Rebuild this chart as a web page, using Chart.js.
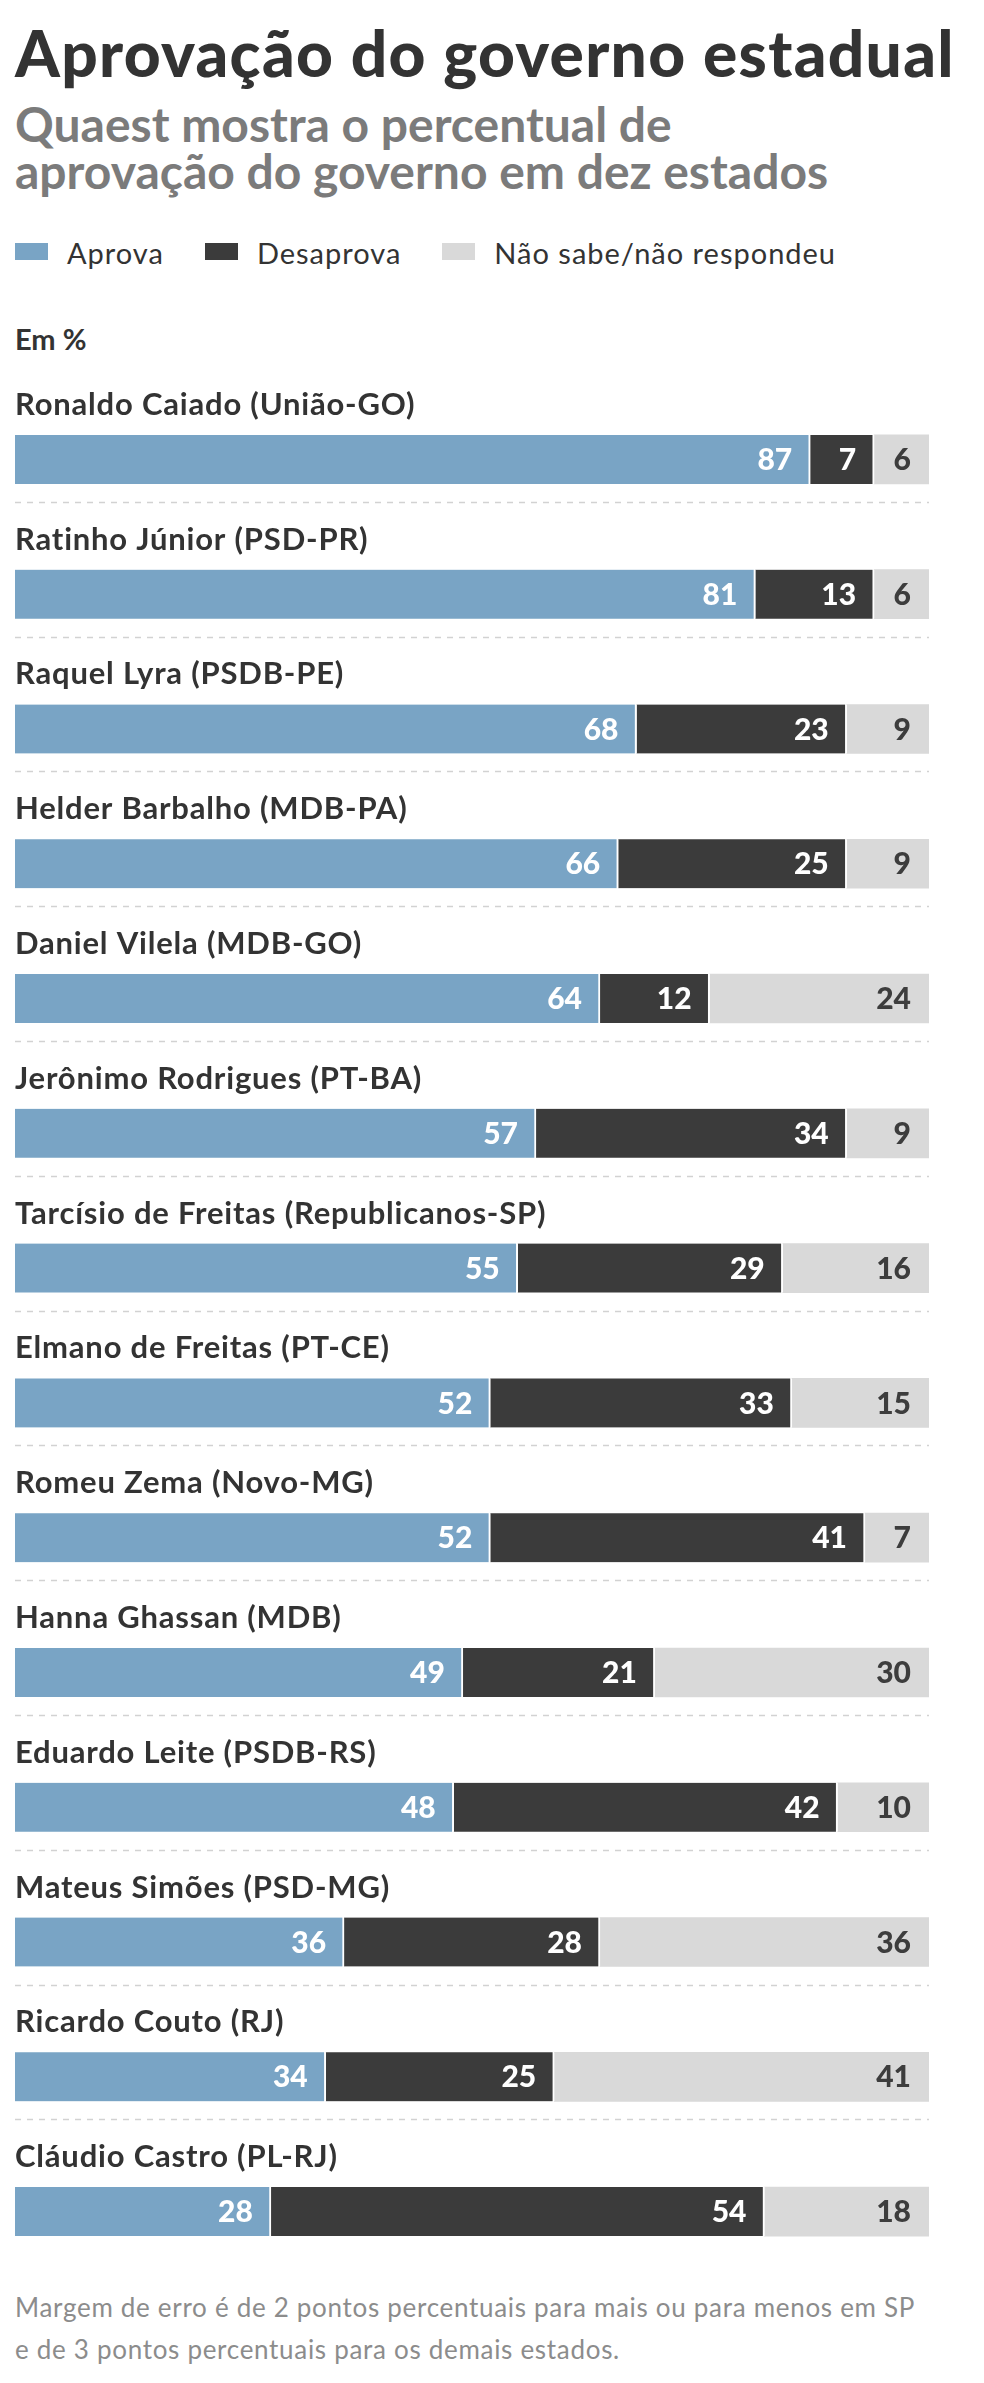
<!DOCTYPE html>
<html lang="pt-BR">
<head>
<meta charset="utf-8">
<title>Aprovação do governo estadual</title>
<script src="https://cdn.jsdelivr.net/npm/chart.js@4.4.1/dist/chart.umd.min.js"></script>
<style>
    body {
        margin: 0;
        width: 984px;
        height: 2383px;
        background: #fff;
        position: relative;
        overflow: hidden;
        font-family: Lato, "Noto Sans", sans-serif;
    }
    .abs { position: absolute; left: 15px; white-space: nowrap; }
    #title { top: 21px; font-size: 64px; line-height: 64px; font-weight: 900; color: #333; letter-spacing: 1.3px; }
    #subtitle { top: 100px; font-size: 48px; line-height: 47px; font-weight: 700; color: #7b7b7b; }
    #legend { top: 238px; display: flex; font-size: 29px; line-height: 29px; color: #333; letter-spacing: 1px; }
    .legend-item { display: flex; margin-right: 41px; }
    .legend-box { width: 33px; height: 17px; margin-top: 5px; margin-right: 19px; }
    #unit { top: 324px; font-size: 29px; line-height: 29px; font-weight: 700; color: #333; }
    #note { top: 2286px; font-size: 26px; line-height: 42px; color: #8c8c8c; letter-spacing: 0.7px; }
    #chartBox { position: absolute; left: 0; top: 380px; width: 984px; height: 1900px; }
</style>
</head>
<body>
<div id="title" class="abs">Aprovação do governo estadual</div>
<div id="subtitle" class="abs">Quaest mostra o percentual de<br>aprovação do governo em dez estados</div>
<div id="legend" class="abs"></div>
<div id="unit" class="abs">Em %</div>
<div id="chartBox"><canvas id="approvalChart" width="984" height="1900"></canvas></div>
<div id="note" class="abs">Margem de erro é de 2 pontos percentuais para mais ou para menos em SP<br>e de 3 pontos percentuais para os demais estados.</div>

<script>
// Data
const governors = [
    'Ronaldo Caiado (União-GO)',
    'Ratinho Júnior (PSD-PR)',
    'Raquel Lyra (PSDB-PE)',
    'Helder Barbalho (MDB-PA)',
    'Daniel Vilela (MDB-GO)',
    'Jerônimo Rodrigues (PT-BA)',
    'Tarcísio de Freitas (Republicanos-SP)',
    'Elmano de Freitas (PT-CE)',
    'Romeu Zema (Novo-MG)',
    'Hanna Ghassan (MDB)',
    'Eduardo Leite (PSDB-RS)',
    'Mateus Simões (PSD-MG)',
    'Ricardo Couto (RJ)',
    'Cláudio Castro (PL-RJ)'
];
const approve    = [87, 81, 68, 66, 64, 57, 55, 52, 52, 49, 48, 36, 34, 28];
const disapprove = [7, 13, 23, 25, 12, 34, 29, 33, 41, 21, 42, 28, 25, 54];
const dontKnow   = [6, 6, 9, 9, 24, 9, 16, 15, 7, 30, 10, 36, 41, 18];

const seriesNames  = ['Aprova', 'Desaprova', 'Não sabe/não respondeu'];
const seriesColors = ['#79a4c5', '#3b3b3b', '#d9d9d9'];
const valueColors  = ['#ffffff', '#ffffff', '#3d3d3d'];

const BAR_HEIGHT = 49;

// Build the legend from the series
function buildLegend() {
    const legend = document.getElementById('legend');
    seriesNames.forEach((name, i) => {
        const item = document.createElement('div');
        item.className = 'legend-item';
        const box = document.createElement('div');
        box.className = 'legend-box';
        box.style.background = seriesColors[i];
        const label = document.createElement('span');
        label.innerText = name;
        item.appendChild(box);
        item.appendChild(label);
        legend.appendChild(item);
    });
}

// Plugin: governor name above each bar, separators, values inside segments
const rowText = {
    id: 'rowText',
    afterDatasetsDraw(chart) {
        const ctx = chart.ctx;
        const area = chart.chartArea;
        const yScale = chart.scales.y;
        ctx.save();

        governors.forEach((name, i) => {
            const yc = yScale.getPixelForValue(i);

            ctx.font = '700 31px Lato, "Noto Sans", sans-serif';
            ctx.letterSpacing = '0.8px';
            ctx.fillStyle = '#333';
            ctx.textAlign = 'left';
            ctx.textBaseline = 'alphabetic';
            ctx.fillText(name, area.left, yc - BAR_HEIGHT / 2 - 20);

            if (i < governors.length - 1) {
                const ly = Math.round(yc + BAR_HEIGHT / 2 + 18) + 0.5;
                ctx.beginPath();
                ctx.setLineDash([6, 6]);
                ctx.strokeStyle = '#d2d2d2';
                ctx.lineWidth = 1.5;
                ctx.moveTo(area.left, ly);
                ctx.lineTo(area.right, ly);
                ctx.stroke();
                ctx.setLineDash([]);
            }
        });

        ctx.letterSpacing = '0px';
        chart.data.datasets.forEach((ds, d) => {
            const meta = chart.getDatasetMeta(d);
            meta.data.forEach((bar, i) => {
                ctx.font = '900 30px Lato, "Noto Sans", sans-serif';
                ctx.fillStyle = valueColors[d];
                ctx.textAlign = 'right';
                ctx.textBaseline = 'middle';
                ctx.fillText(ds.data[i], bar.x - 18, bar.y + 1);
            });
        });
        ctx.restore();
    }
};

function createApprovalChart() {
    const seriesData = [approve, disapprove, dontKnow];
    const ctx = document.getElementById('approvalChart').getContext('2d');
    new Chart(ctx, {
        type: 'bar',
        data: {
            labels: governors,
            datasets: seriesNames.map((name, i) => ({
                label: name,
                data: seriesData[i],
                backgroundColor: seriesColors[i],
                borderColor: '#ffffff',
                borderWidth: i < 2 ? { top: 0, left: 0, bottom: 0, right: 2 } : 0,
                borderSkipped: false,
                barThickness: BAR_HEIGHT
            }))
        },
        options: {
            indexAxis: 'y',
            responsive: false,
            animation: false,
            devicePixelRatio: 1,
            layout: {
                padding: { left: 15, right: 55, top: 12, bottom: 1 }
            },
            scales: {
                x: { stacked: true, min: 0, max: 100, display: false },
                y: { stacked: true, display: false }
            },
            plugins: {
                legend: { display: false },
                tooltip: { enabled: false }
            }
        },
        plugins: [rowText]
    });
}

buildLegend();
createApprovalChart();
</script>
</body>
</html>
